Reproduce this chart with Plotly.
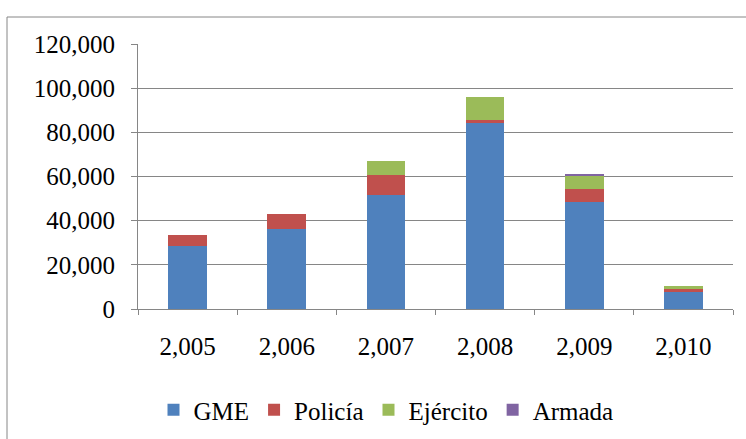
import plotly.graph_objects as go

years = ["2,005", "2,006", "2,007", "2,008", "2,009", "2,010"]
gme = [28500, 36100, 51800, 84400, 48600, 8000]
policia = [4800, 6800, 9000, 1400, 5800, 900]
ejercito = [0, 0, 6200, 10300, 6100, 1700]
armada = [0, 0, 0, 0, 600, 0]

series = [
    ("GME", gme, "#4F81BD"),
    ("Policía", policia, "#C0504D"),
    ("Ejército", ejercito, "#9BBB59"),
    ("Armada", armada, "#8064A2"),
]

fig = go.Figure()
for name, vals, col in series:
    fig.add_trace(go.Bar(x=years, y=vals, name=name, marker_color=col,
                         marker_line_width=0))

W, H = 746, 439
L, R, T, B = 138, 13, 44, 130
pw, ph = W - L - R, H - T - B
FAM = "Liberation Serif, Times New Roman, serif"

def px_x(p):
    return (p - L) / pw

def px_y(p):
    return (H - B - p) / ph

fig.update_layout(
    width=W, height=H,
    margin=dict(l=L, r=R, t=T, b=B, pad=0, autoexpand=False),
    barmode="stack", bargap=0.61,
    plot_bgcolor="white", paper_bgcolor="white",
    font=dict(family=FAM, size=25, color="black"),
    showlegend=True,
    legend=dict(orientation="h", x=px_x(386), xanchor="center",
                y=px_y(410), yanchor="middle",
                font=dict(family=FAM, size=25, color="black"),
                traceorder="normal"),
    xaxis=dict(type="category", showline=True, linecolor="#868686", linewidth=1,
               ticks="outside", ticklen=5, tickcolor="#868686", tickson="boundaries",
               showgrid=False, ticklabelstandoff=15, automargin=False,
               tickfont=dict(family=FAM, size=25, color="black")),
    yaxis=dict(range=[0, 120000], dtick=20000, tickformat=",", showline=True,
               linecolor="#868686", linewidth=1, ticks="outside", ticklen=6,
               tickcolor="#868686", showgrid=True, gridcolor="#868686", gridwidth=1,
               zeroline=False, ticklabelstandoff=11, automargin=False,
               tickfont=dict(family=FAM, size=25, color="black")),
    shapes=[dict(type="rect", xref="paper", yref="paper",
                 x0=px_x(7), x1=px_x(760), y0=px_y(460), y1=px_y(17),
                 line=dict(color="#868686", width=1), fillcolor="rgba(0,0,0,0)",
                 layer="below")],
)

fig.write_html("out.html", config={"displayModeBar": False},
               post_script="document.body.style.margin='0px';")
